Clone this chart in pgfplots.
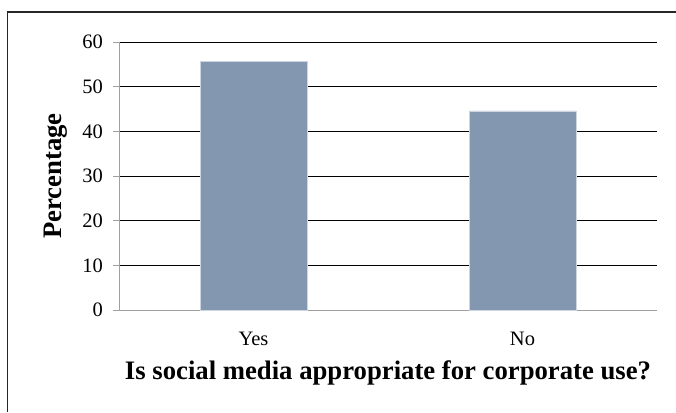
\documentclass[border=0pt]{standalone}
\usepackage{pgfplots}
\pgfplotsset{compat=1.18}
\usepackage{fontspec}
\setmainfont{Liberation Serif}
\definecolor{barc}{RGB}{132,151,176}
\definecolor{baredge}{RGB}{205,213,224}
\definecolor{axgray}{RGB}{160,160,160}
\begin{document}
\begin{tikzpicture}[x=1pt,y=1pt]
\useasboundingbox (0,0) rectangle (676,412);
\draw[black!85, line width=1.3pt] (7.5,0) -- (7.5,400) -- (676,400);
\begin{axis}[
  at={(119pt,102pt)}, anchor=south west,
  scale only axis, width=538pt, height=268pt,
  xmin=-0.5, xmax=1.5, ymin=0, ymax=60,
  ytick={0,10,...,60},
  xtick=data, xticklabels={Yes,No},
  axis lines*=left,
  axis line style={axgray, line width=1pt},
  ymajorgrids, grid style={black, line width=1pt},
  tick align=outside, major tick length=6pt,
  ytick style={axgray, line width=1pt},
  xtick style={draw=none},
  /pgf/number format/assume math mode=true,
  ticklabel style={font=\fontsize{20.5pt}{21pt}\selectfont},
  xticklabel style={yshift=-13pt},
  yticklabel style={xshift=-6.5pt},
  label style={font=\fontsize{26.7pt}{28pt}\selectfont\bfseries},
  xlabel={Is social media appropriate for corporate use?},
  xlabel style={at={(axis description cs:0.5,0)}, anchor=base, yshift=-69pt},
  ylabel={Percentage},
  ylabel style={at={(axis description cs:-0.1069,0.5)}, anchor=base},
  ybar, bar width=107pt,
]
\addplot[fill=barc, draw=baredge, line width=0.5pt] coordinates {(0,55.6) (1,44.6)};
\end{axis}
\end{tikzpicture}
\end{document}
